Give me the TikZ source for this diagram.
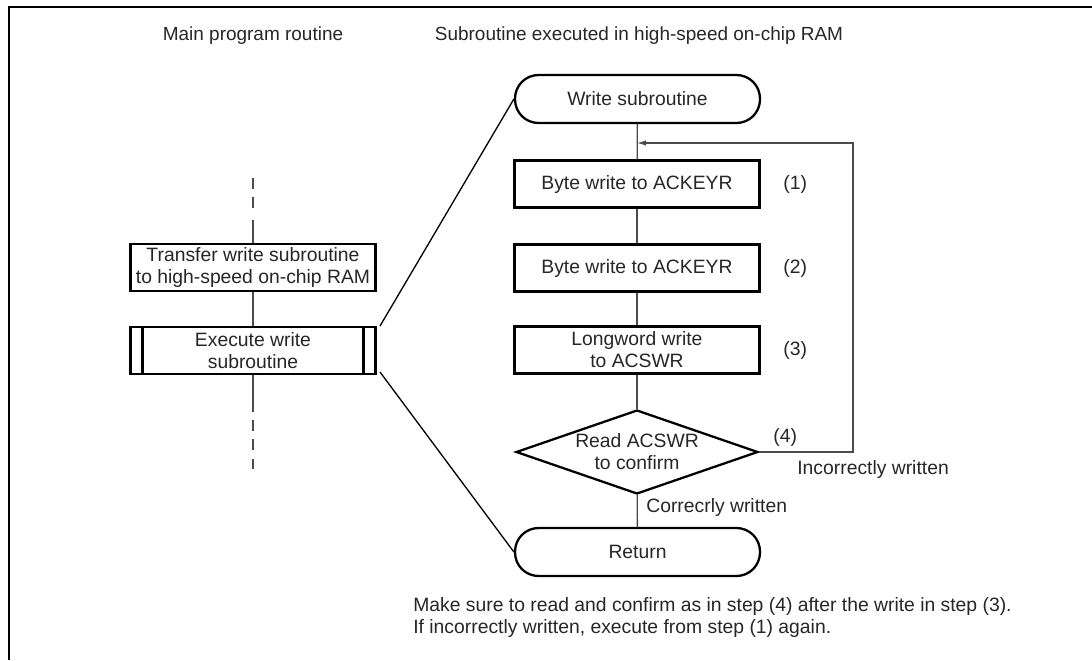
\documentclass[tikz,border=0pt]{standalone}
\usepackage{fontspec}
\setmainfont{Liberation Sans}
\usetikzlibrary{arrows.meta,positioning,calc,shapes.geometric}
\tikzset{bloc/.style={draw,line width=1.3pt,align=center,minimum width=4.9cm,minimum height=0.94cm,inner sep=1pt,font=\fontsize{11}{12.6}\selectfont,text=black!85},
term/.style={bloc,rounded corners=0.47cm,minimum height=0.96cm},
decis/.style={bloc,diamond,aspect=2.88,minimum width=4.84cm,minimum height=1.68cm,inner sep=0pt},
lien/.style={draw=black!70,line width=0.75pt},
flux/.style={lien,-{Latex[length=1.8mm,width=1.1mm]}},
note/.style={font=\fontsize{11}{12.6}\selectfont,text=black!85,inner sep=0pt,align=left},
entete/.style={font=\fontsize{10.8}{12.6}\selectfont,text=black!85,inner sep=0pt}}

\begin{document}
\begin{tikzpicture}[x=0.02cm,y=-0.02cm]
\useasboundingbox (0,0) rectangle (1092,660);
\draw[line width=1.4pt] (9,660)--(9,7)--(1092,7);
\node[entete] (tmain) at (253,36) {Main program routine};
\node[entete] (tsub) at (639,36) {Subroutine executed in high-speed on-chip RAM};
% main routine
\node[bloc] (transfert) at (253,267.5) {Transfer write subroutine\\to high-speed on-chip RAM};
\node[bloc] (execute) at (253,350.5) {Execute write\\subroutine};
\draw[line width=1.3pt] ($(execute.north west)+(13,0)$)--($(execute.south west)+(13,0)$);
\draw[line width=1.3pt] ($(execute.north east)+(-13,0)$)--($(execute.south east)+(-13,0)$);
\coordinate (haut1) at (253,178);
\coordinate (haut2) at (253,212);
\coordinate (haut3) at (253,220);
\coordinate (bas1) at (253,412);
\coordinate (bas2) at (253,420);
\coordinate (bas3) at (253,470);
\draw[lien,dashed,dash pattern=on 6pt off 5pt] (haut1)--(haut2);
\draw[lien] (haut3)--(transfert);
\draw[lien] (transfert)--(execute);
\draw[lien] (execute)--(bas1);
\draw[lien,dashed,dash pattern=on 6pt off 5pt] (bas2)--(bas3);
% subroutine
\node[term] (debut) at (637.5,99) {Write subroutine};
\node[bloc] (ecr1) at (637,184) {Byte write to ACKEYR};
\node[bloc] (ecr2) at (637,268) {Byte write to ACKEYR};
\node[bloc] (ecr3) at (637,350) {Longword write\\to ACSWR};
\node[decis] (lecture) at (637,452) {Read ACSWR\\to confirm};
\node[term] (retour) at (637.5,552) {Return};
\node[note,anchor=west] (n1) at (783,184) {(1)};
\node[note,anchor=west] (n2) at (783,268) {(2)};
\node[note,anchor=west] (n3) at (783,350) {(3)};
\node[note,anchor=west] (n4) at (773,437) {(4)};
\node[note,anchor=west] (nko) at (797,469) {Incorrectly written};
\node[note,anchor=west] (nok) at (646,507) {Correcrly written};
\coordinate (retour1) at (637,143);
\coordinate (coin1) at (853,452);
\coordinate (coin2) at (853,143);
\draw[lien] (debut)--(ecr1);
\draw[lien] (ecr1)--(ecr2);
\draw[lien] (ecr2)--(ecr3);
\draw[lien] (ecr3)--(lecture);
\draw[lien] (lecture)--(retour);
\draw[flux] (lecture.east)--(coin1)--(coin2)--(retour1);
% zoom lines
\coordinate (z1) at (380,326);
\coordinate (z2) at (380,372);
\draw[lien,draw=black] (z1)--(debut.west);
\draw[lien,draw=black] (z2)--(retour.west);
\node[note,anchor=west] (remarque) at (413,617.5) {Make sure to read and confirm as in step (4) after the write in step (3).\\If incorrectly written, execute from step (1) again.};
\end{tikzpicture}
\end{document}
